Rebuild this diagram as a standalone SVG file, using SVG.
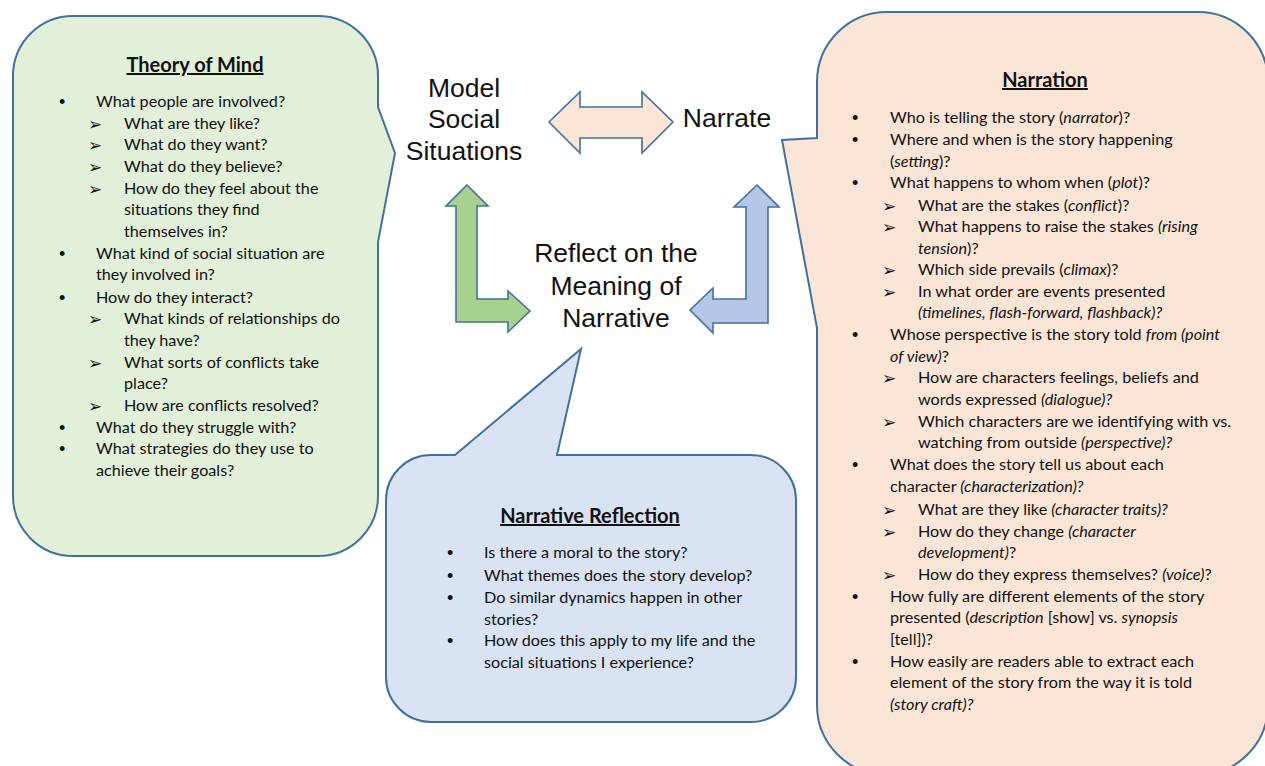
<svg xmlns="http://www.w3.org/2000/svg" width="1265" height="766" viewBox="0 0 1265 766">
<style>
.co{stroke:#41719C;stroke-width:2;stroke-linejoin:miter}
.ar{stroke:#41719C;stroke-width:1.6;stroke-linejoin:miter}
.t{font-family:Lato,"Open Sans",sans-serif;font-size:16.2px;fill:#111}
.h{font-family:Lato,"Open Sans",sans-serif;font-size:20px;font-weight:bold;fill:#111;text-decoration:underline;text-anchor:middle}
.bu{font-family:"Liberation Sans",sans-serif;font-size:18px;fill:#111}
.ad{font-family:"DejaVu Sans",sans-serif;font-size:17px;fill:#111}
.c{font-family:"Liberation Sans",Arial,sans-serif;font-size:26.5px;fill:#111;text-anchor:middle}
.i{font-style:italic}
</style>
<rect width="1265" height="766" fill="#fff"/>
<g id="theory-of-mind">
<path class="co" fill="#E2EFD9" d="M73,16 H318 A60,60 0 0 1 378,76 V107 L395,153 L378,242 V496 A60,60 0 0 1 318,556 H73 A60,60 0 0 1 13,496 V76 A60,60 0 0 1 73,16 Z"/>
<text class="h" x="195" y="72">Theory of Mind</text>
<text class="bu"><tspan x="59" y="108">•</tspan><tspan x="59" y="259.7">•</tspan><tspan x="59" y="303.7">•</tspan><tspan x="59" y="433.7">•</tspan><tspan x="59" y="455.3">•</tspan></text>
<text class="ad"><tspan x="88" y="129.7">➢</tspan><tspan x="88" y="151.3">➢</tspan><tspan x="88" y="173">➢</tspan><tspan x="88" y="194.7">➢</tspan><tspan x="88" y="325.3">➢</tspan><tspan x="88" y="368.7">➢</tspan><tspan x="88" y="412">➢</tspan></text>
<text class="t">
<tspan x="96" y="107">What people are involved?</tspan>
<tspan x="124" y="128.7">What are they like?</tspan>
<tspan x="124" y="150.3">What do they want?</tspan>
<tspan x="124" y="172">What do they believe?</tspan>
<tspan x="124" y="193.7">How do they feel about the</tspan>
<tspan x="124" y="215.3">situations they find</tspan>
<tspan x="124" y="237">themselves in?</tspan>
<tspan x="96" y="258.7">What kind of social situation are</tspan>
<tspan x="96" y="280.3">they involved in?</tspan>
<tspan x="96" y="302.7">How do they interact?</tspan>
<tspan x="124" y="324.3">What kinds of relationships do</tspan>
<tspan x="124" y="346">they have?</tspan>
<tspan x="124" y="367.7">What sorts of conflicts take</tspan>
<tspan x="124" y="389.3">place?</tspan>
<tspan x="124" y="411">How are conflicts resolved?</tspan>
<tspan x="96" y="432.7">What do they struggle with?</tspan>
<tspan x="96" y="454.3">What strategies do they use to</tspan>
<tspan x="96" y="476">achieve their goals?</tspan>
</text>
</g>
<g id="narration">
<path class="co" fill="#FBE5D6" d="M887,12 H1198 A70,70 0 0 1 1268,82 V705 A70,70 0 0 1 1198,775 H887 A70,70 0 0 1 817,705 V328 L782,140 L817,138 V82 A70,70 0 0 1 887,12 Z"/>
<text class="h" x="1045" y="87">Narration</text>
<text class="bu"><tspan x="852" y="124">•</tspan><tspan x="852" y="146">•</tspan><tspan x="852" y="189">•</tspan><tspan x="852" y="341">•</tspan><tspan x="852" y="471">•</tspan><tspan x="852" y="603">•</tspan><tspan x="852" y="668">•</tspan></text>
<text class="ad"><tspan x="882" y="211.5">➢</tspan><tspan x="882" y="233">➢</tspan><tspan x="882" y="276">➢</tspan><tspan x="882" y="298">➢</tspan><tspan x="882" y="384">➢</tspan><tspan x="882" y="428">➢</tspan><tspan x="882" y="516">➢</tspan><tspan x="882" y="538">➢</tspan><tspan x="882" y="581">➢</tspan></text>
<text class="t" x="890" y="123">Who is telling the story (<tspan class="i">narrator</tspan>)?</text>
<text class="t" x="890" y="145">Where and when is the story happening</text>
<text class="t" x="890" y="167">(<tspan class="i">setting</tspan>)?</text>
<text class="t" x="890" y="188">What happens to whom when (<tspan class="i">plot</tspan>)?</text>
<text class="t" x="918" y="210.5">What are the stakes (<tspan class="i">conflict</tspan>)?</text>
<text class="t" x="918" y="232">What happens to raise the stakes <tspan class="i">(rising</tspan></text>
<text class="t" x="918" y="254"><tspan class="i">tension</tspan>)?</text>
<text class="t" x="918" y="275">Which side prevails (<tspan class="i">climax</tspan>)?</text>
<text class="t" x="918" y="297">In what order are events presented</text>
<text class="t i" x="918" y="318">(timelines, flash-forward, flashback)?</text>
<text class="t" x="890" y="340">Whose perspective is the story told <tspan class="i">from (point</tspan></text>
<text class="t" x="890" y="362"><tspan class="i">of view)</tspan>?</text>
<text class="t" x="918" y="383">How are characters feelings, beliefs and</text>
<text class="t" x="918" y="405">words expressed <tspan class="i">(dialogue)?</tspan></text>
<text class="t" x="918" y="427">Which characters are we identifying with vs.</text>
<text class="t" x="918" y="448">watching from outside <tspan class="i">(perspective)?</tspan></text>
<text class="t" x="890" y="470">What does the story tell us about each</text>
<text class="t" x="890" y="492">character <tspan class="i">(characterization)?</tspan></text>
<text class="t" x="918" y="515">What are they like <tspan class="i">(character traits)?</tspan></text>
<text class="t" x="918" y="537">How do they change <tspan class="i">(character</tspan></text>
<text class="t" x="918" y="558"><tspan class="i">development)</tspan>?</text>
<text class="t" x="918" y="580">How do they express themselves? <tspan class="i">(voice)</tspan>?</text>
<text class="t" x="890" y="602">How fully are different elements of the story</text>
<text class="t" x="890" y="623">presented (<tspan class="i">description</tspan> [show] vs. <tspan class="i">synopsis</tspan></text>
<text class="t" x="890" y="645">[tell])?</text>
<text class="t" x="890" y="667">How easily are readers able to extract each</text>
<text class="t" x="890" y="688">element of the story from the way it is told</text>
<text class="t i" x="890" y="710">(story craft)?</text>
</g>
<g id="narrative-reflection">
<path class="co" fill="#DAE3F3" d="M431,455 H455 L581,349 L557,455 H751 A45,45 0 0 1 796,500 V677 A45,45 0 0 1 751,722 H431 A45,45 0 0 1 386,677 V500 A45,45 0 0 1 431,455 Z"/>
<text class="h" x="590" y="523">Narrative Reflection</text>
<text class="bu"><tspan x="447" y="559">•</tspan><tspan x="447" y="582">•</tspan><tspan x="447" y="604">•</tspan><tspan x="447" y="647">•</tspan></text>
<text class="t">
<tspan x="484" y="558">Is there a moral to the story?</tspan>
<tspan x="484" y="581">What themes does the story develop?</tspan>
<tspan x="484" y="603">Do similar dynamics happen in other</tspan>
<tspan x="484" y="625">stories?</tspan>
<tspan x="484" y="646">How does this apply to my life and the</tspan>
<tspan x="484" y="668">social situations I experience?</tspan>
</text>
</g>
<g id="model-social-situations">
<text class="c"><tspan x="464" y="97">Model</tspan><tspan x="464" y="128">Social</tspan><tspan x="464" y="160">Situations</tspan></text>
</g>
<g id="narrate">
<text class="c" x="727" y="127">Narrate</text>
</g>
<g id="reflect">
<text class="c"><tspan x="616" y="262">Reflect on the</tspan><tspan x="616" y="295">Meaning of</tspan><tspan x="616" y="327">Narrative</tspan></text>
</g>
<g id="connectors">
<path class="ar" fill="#FBE5D6" d="M549,122 L580,92 V107 H642 V92 L673,122 L642,153 V138 H580 V153 Z"/>
<path class="ar" fill="#A9D18E" d="M467,185 L488,206 H477 V299 H508 V291 L530,311 L508,332 V322 H456 V206 H446 Z"/>
<path class="ar" fill="#B4C7E7" d="M757,185 L779,207 H768 V323 H713 V333 L690,310 L713,288 V299 H746 V207 H734 Z"/>
</g>
</svg>
